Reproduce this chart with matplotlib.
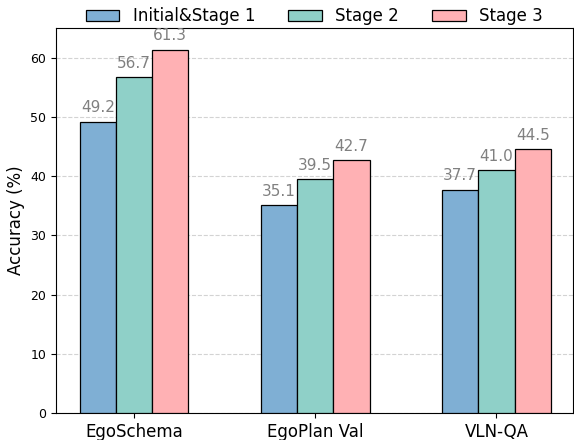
import matplotlib
matplotlib.use("Agg")
import matplotlib.pyplot as plt
import numpy as np

categories = ['EgoSchema', 'EgoPlan Val', 'VLN-QA']
series_names = ['Initial&Stage 1', 'Stage 2', 'Stage 3']
stage1 = [49.2, 35.1, 37.7]
stage2 = [56.7, 39.5, 41.0]
stage3 = [61.3, 42.7, 44.5]
colors = ['#7fafd4', '#8fd0c8', '#ffb1b4']

fig = plt.figure(figsize=(5.74, 4.4), dpi=100)
ax = fig.add_axes([0.0976, 0.0614, 0.9, 0.875])

x = np.arange(len(categories))
width = 0.2
for i, (vals, name) in enumerate(zip([stage1, stage2, stage3], series_names)):
    pos = x + (i - 1) * width
    ax.bar(pos, vals, width, color=colors[i], edgecolor='black', linewidth=0.9, label=name, zorder=3)
    for p, v in zip(pos, vals):
        ax.text(p, v + 1.1, f'{v:.1f}', ha='center', va='bottom', fontsize=11, color='gray')

ax.set_xticks(x)
ax.set_xticklabels(categories, fontsize=12)
ax.tick_params(axis='y', labelsize=9)
ax.set_ylabel('Accuracy (%)', fontsize=12)
ax.set_ylim(0, 65)
ax.set_xlim(-0.43, 2.42)
ax.yaxis.grid(True, linestyle='--', color='lightgray', linewidth=0.8, zorder=0)
ax.set_axisbelow(True)
ax.legend(loc='lower center', bbox_to_anchor=(0.5, 0.99), ncol=3, frameon=False,
          fontsize=12, handlelength=2.0, handletextpad=0.8, columnspacing=2.0, borderaxespad=0)

fig.savefig('out.png', dpi=100)
